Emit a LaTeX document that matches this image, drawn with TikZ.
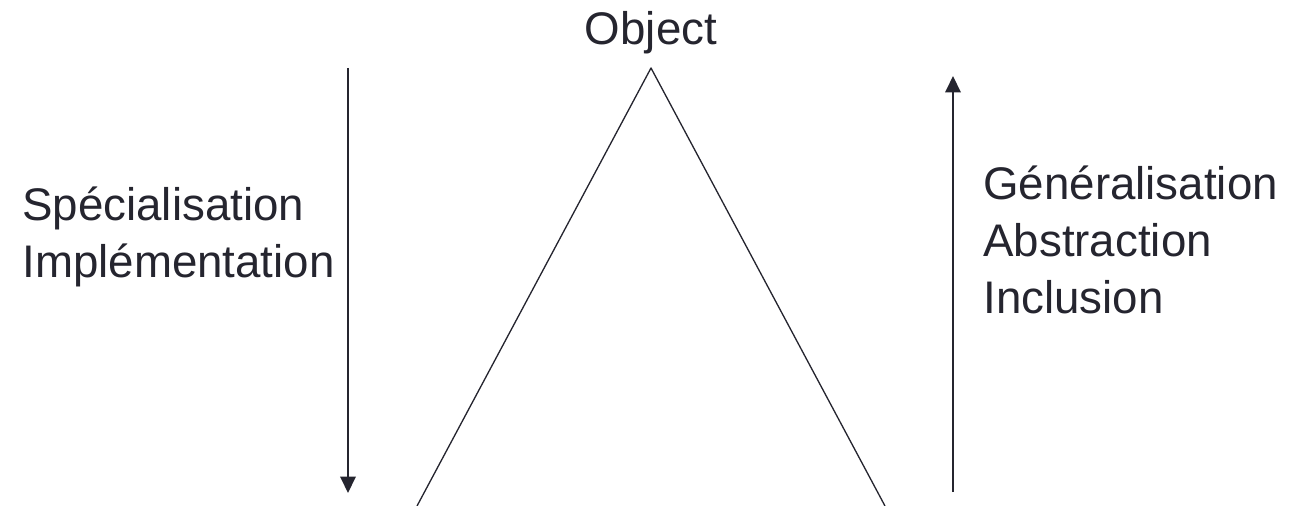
\documentclass[tikz,border=0pt]{standalone}
\usepackage{fontspec}
\setmainfont{Liberation Sans}
\usepackage{xcolor}
\usetikzlibrary{arrows.meta}
\definecolor{ink}{HTML}{25252F}
\tikzset{
  every picture/.style={line join=round, >={Triangle[length=0.33cm,width=0.31cm]}},
  label/.style={inner sep=0pt, text=ink, font=\fontsize{26}{32.5}\selectfont},
  side/.style={draw=ink, line width=0.75pt},
  way/.style={draw=ink, line width=1.1pt, ->},
}

\begin{document}
\begin{tikzpicture}[x=0.02cm,y=-0.02cm]
\useasboundingbox (0,0) rectangle (1291,506);
\node[label] (object) at (651,33) {Object};
\coordinate (apex) at (651,68);
\coordinate (baseL) at (417,506);
\coordinate (baseR) at (885,506);
\draw[side] (baseL)--(apex)--(baseR);
\coordinate (downA) at (348,68);
\coordinate (downB) at (348,493);
\coordinate (upA) at (953,492);
\coordinate (upB) at (953,76);
\draw[way] (downA)--(downB);
\draw[way] (upA)--(upB);
\node[label, anchor=west, align=left] (special) at (22,237) {Spécialisation\\Implémentation};
\node[label, anchor=west, align=left] (general) at (983,240) {Généralisation\\Abstraction\\Inclusion};
\end{tikzpicture}
\end{document}
